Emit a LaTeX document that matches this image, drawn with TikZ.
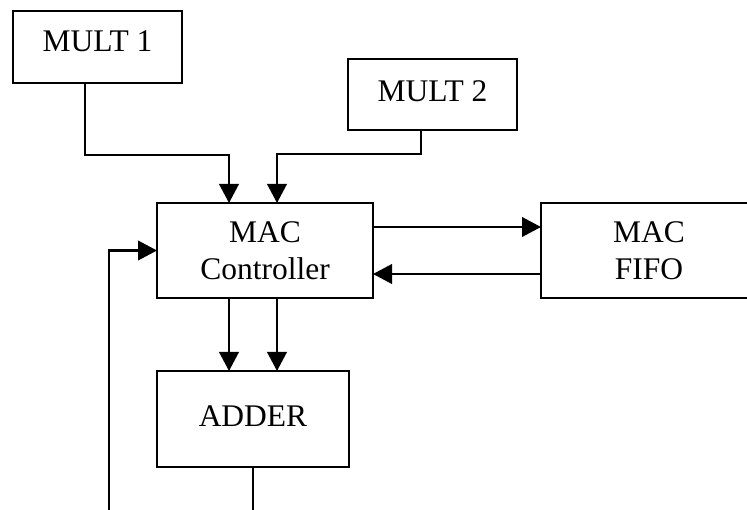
\documentclass[tikz,border=0pt]{standalone}
\usepackage{fontspec}
\setmainfont{Liberation Serif}
\usetikzlibrary{arrows.meta}
\begin{document}
\begin{tikzpicture}[x=1pt,y=-1pt,
  box/.style={draw,line width=2.3pt,inner sep=0pt,outer sep=0pt,align=center,
    font=\fontsize{31.5}{37}\selectfont},
  arr/.style={line width=2.3pt,-{Triangle[length=19pt,width=19.5pt]}},
  ln/.style={line width=2.3pt}]
\useasboundingbox (0,0) rectangle (747,510);
\clip (0,0) rectangle (747,510);
\node[box,minimum width=169pt,text height=41pt,text depth=31pt] (m1) at (97.5,47) {MULT 1};
\node[box,minimum width=169pt,text height=43pt,text depth=28pt] (m2) at (432.5,94.5) {MULT 2};
\node[box,minimum width=216pt,text height=77pt,text depth=18pt] (mac) at (265,250.5) {MAC\\Controller};
\node[box,minimum width=216pt,text height=77pt,text depth=18pt] (fifo) at (649,250.5) {MAC\\FIFO};
\node[box,minimum width=192pt,text height=56pt,text depth=40pt] (adder) at (253,419) {ADDER};
\coordinate (aout) at (253,520);
\coordinate (fb) at (109,520);
\draw[arr] ([xshift=-12.5]m1.south) -- ++(0,72) -| ([xshift=-36]mac.north);
\draw[arr] ([xshift=-11.5]m2.south) -- ++(0,24) -| ([xshift=12]mac.north);
\draw[arr] ([yshift=23.5]mac.east) -- ([yshift=23.5]fifo.west);
\draw[arr] ([yshift=-23.5]fifo.west) -- ([yshift=-23.5]mac.east);
\draw[arr] ([xshift=-36]mac.south) -- ([xshift=-36]mac.south |- adder.north);
\draw[arr] ([xshift=12]mac.south) -- ([xshift=12]mac.south |- adder.north);
\draw[ln] (adder.south) -- (aout);
\draw[arr] (fb) |- (mac.west);
\end{tikzpicture}
\end{document}
